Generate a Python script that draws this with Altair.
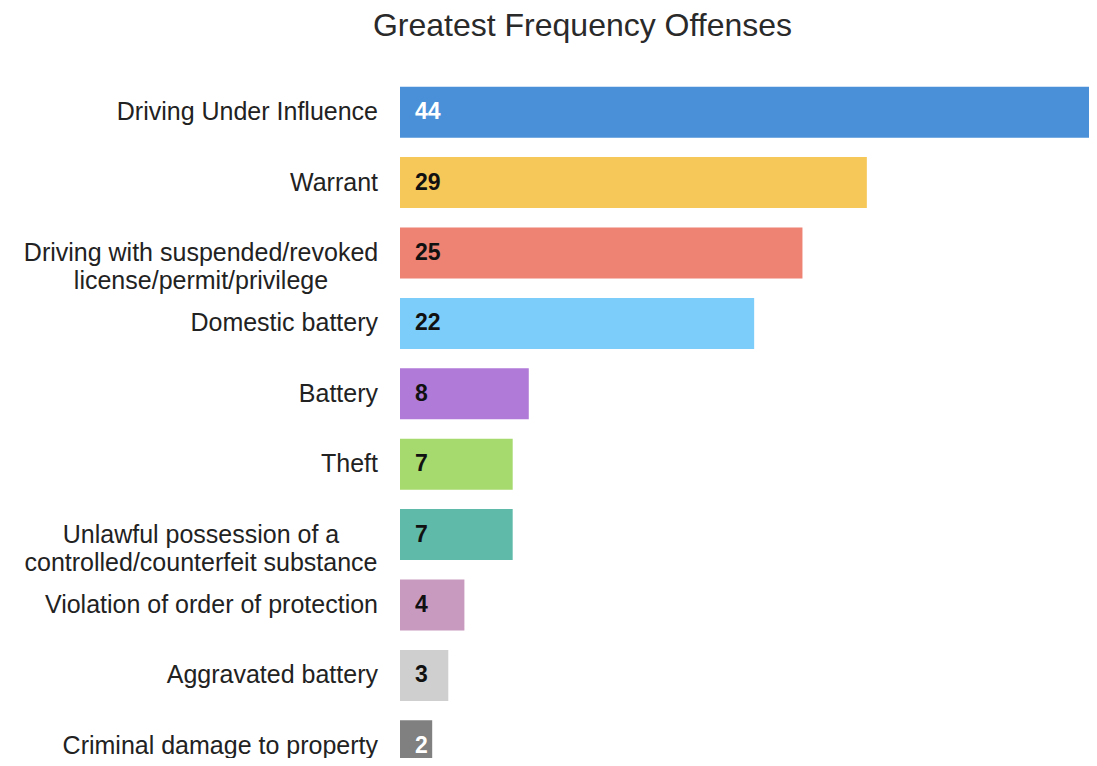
import altair as alt
import pandas as pd

categories = [
    "Driving Under Influence",
    "Warrant",
    "Driving with suspended/revoked\nlicense/permit/privilege",
    "Domestic battery",
    "Battery",
    "Theft",
    "Unlawful possession of a\ncontrolled/counterfeit substance",
    "Violation of order of protection",
    "Aggravated battery",
    "Criminal damage to property",
]
values = [44, 29, 25, 22, 8, 7, 7, 4, 3, 2]
bar_colors = ["#4a90d9", "#f6c85a", "#ee8273", "#7dcdfa", "#b07ad8",
              "#a6d96e", "#5fbaa9", "#c99ac0", "#cfcfcf", "#808080"]
value_colors = ["#ffffff", "#111111", "#111111", "#111111", "#111111",
                "#111111", "#111111", "#111111", "#111111", "#ffffff"]

df = pd.DataFrame({
    "category": categories,
    "value": values,
    "color": bar_colors,
    "vcolor": value_colors,
    "multi": ["\n" in c for c in categories],
})

FONT = "Liberation Sans"

y_enc = alt.Y(
    "category:N",
    sort=categories,
    axis=None,
    scale=alt.Scale(range=[0, 704], paddingInner=0.275, paddingOuter=0.1375),
)

base = alt.Chart(df)

bars = base.mark_bar(clip=True).encode(
    x=alt.X("value:Q", axis=None,
            scale=alt.Scale(domain=[0, 42.8], clamp=True, nice=False)),
    y=y_enc,
    color=alt.Color("color:N", scale=None),
)

value_text = base.mark_text(
    align="left", baseline="middle", dx=15, font=FONT,
    fontSize=23, fontWeight="bold",
).encode(
    x=alt.value(0),
    y=y_enc,
    text="value:Q",
    color=alt.Color("vcolor:N", scale=None),
)

single_labels = base.transform_filter("!datum.multi").mark_text(
    align="right", baseline="middle", dx=-22, font=FONT, fontSize=25,
    color="#222222",
).encode(
    x=alt.value(0),
    y=y_enc,
    text="category:N",
)

multi_labels = base.transform_filter("datum.multi").mark_text(
    align="center", baseline="middle", dx=-199, font=FONT, fontSize=25,
    lineHeight=28, lineBreak="\n", color="#222222",
).encode(
    x=alt.value(0),
    y=y_enc,
    text="category:N",
)

chart = alt.layer(bars, value_text, single_labels, multi_labels).properties(
    width=689,
    height=681,
    title=alt.TitleParams(
        "Greatest Frequency Offenses",
        font=FONT, fontSize=32, fontWeight="normal", color="#2a2a2a",
        anchor="middle", dx=-162, baseline="alphabetic", offset=9,
    ),
    autosize=alt.AutoSizeParams(type="none"),
    padding={"left": 392, "top": 69, "right": 0, "bottom": 0},
).configure_view(stroke=None)

chart.save("out.html", embed_options={"renderer": "svg", "actions": False})
